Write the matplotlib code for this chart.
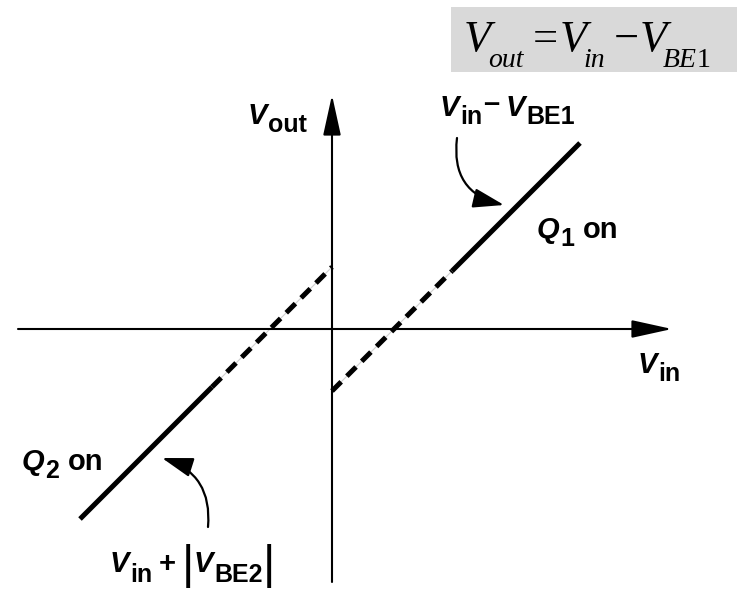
import matplotlib
matplotlib.use("Agg")
import matplotlib.pyplot as plt
from matplotlib.patches import Rectangle
from matplotlib.transforms import offset_copy

# transfer characteristic of the push-pull stage (units: arbitrary, 1 unit ~ 1 px)
VBE1 = 62
VBE2 = 62
vin_q1_off = [0, 120]      # Q1 branch, dashed part
vin_q1_on = [120, 248]     # Q1 branch, solid part
vin_q2_off = [-120, 0]     # Q2 branch, dashed part
vin_q2_on = [-252, -120]   # Q2 branch, solid part

vin_axis = [-314, 340]
vout_axis = [-253, 234]

W, H = 737, 589
fig = plt.figure(figsize=(W / 100, H / 100), dpi=100)
ax = fig.add_axes([0, 0, 1, 1])
ax.set_xlim(-332, W - 332)
ax.set_ylim(329 - H, 329)
ax.axis("off")
r = fig.canvas.get_renderer()


def q1(v):
    return [x - VBE1 for x in v]


def q2(v):
    return [x + VBE2 for x in v]


def runs(x, y, parts, family="Liberation Sans", weight="bold"):
    # parts: (text, fontsize, dy in px, style, gap before in px)
    dx = 0
    for p in parts:
        s, size, dy, style, gap = p[:5]
        w = p[5] if len(p) > 5 else weight
        dx += gap
        tr = offset_copy(ax.transData, fig, x=dx, y=dy, units="dots")
        t = ax.text(x, y, s, transform=tr, fontsize=size, fontweight=w,
                    fontstyle=style, family=family, ha="left", va="baseline",
                    zorder=3)
        dx += t.get_window_extent(r).width


# axes with arrows
ax_arrow = dict(arrowstyle="-|>,head_length=2.5,head_width=0.55",
                mutation_scale=10, lw=1.5, color="black", shrinkA=0, shrinkB=0)
ax.annotate("", xy=(vin_axis[1], 0), xytext=(vin_axis[0], 0), arrowprops=ax_arrow)
ax.annotate("", xy=(0, vout_axis[1]), xytext=(0, vout_axis[0]), arrowprops=ax_arrow)

# faint guide under dashes
for v, f in [(vin_q1_off, q1), (vin_q2_off, q2)]:
    ax.plot(v, f(v), color="#d0d0d0", lw=0.8, zorder=1)
    ax.plot(v, f(v), color="black", lw=3.6, dashes=(2.6, 1.6),
            solid_capstyle="butt", dash_capstyle="butt", zorder=2)
for v, f in [(vin_q1_on, q1), (vin_q2_on, q2)]:
    ax.plot(v, f(v), color="black", lw=3.6, solid_capstyle="butt", zorder=2)

# curved pointers
cur_arrow = dict(arrowstyle="-|>,head_length=1.9,head_width=0.6", mutation_scale=10,
                 lw=1.6, color="black", shrinkA=0, shrinkB=0)
ax.annotate("", xy=(172, 124), xytext=(125, 191),
            arrowprops=dict(cur_arrow, connectionstyle="arc3,rad=0.45"))
ax.annotate("", xy=(-170, -129), xytext=(-124, -198),
            arrowprops=dict(cur_arrow, connectionstyle="arc3,rad=0.4"))

# labels
fs, fsub, drop = 21, 18, -8
runs(-84, 205, [("V", fs, 0, "italic", 0), ("out", fsub, drop, "normal", 1)])
runs(306, -44, [("V", fs, 0, "italic", 0), ("in", fsub, drop, "normal", 1)])
runs(108, 213, [("V", fs, 0, "italic", 0), ("in", fsub, drop, "normal", 1),
                ("\u2013", fs, 4, "normal", 1),
                ("V", fs, 0, "italic", 6), ("BE1", fsub, drop, "normal", 1)])
runs(205, 91, [("Q", fs, 0, "italic", 0), ("1", fsub, drop, "normal", 1),
               ("on", fs, 0, "normal", 8)])
runs(-310, -141, [("Q", fs, 0, "italic", 0), ("2", fsub, drop, "normal", 1),
                  ("on", fs, 0, "normal", 8)])
runs(-222, -243, [("V", fs, 0, "italic", 0), ("in", fsub, -10, "normal", 1),
                  ("+", fs, 0, "normal", 6), ("|", 34, -6, "normal", 6, "normal"),
                  ("V", fs, 0, "italic", 0), ("BE2", fsub, -10, "normal", 1),
                  ("|", 34, -6, "normal", 0, "normal")])

# equation box
ax.add_patch(Rectangle((451 / W, 1 - 72 / H), (W - 451) / W, 65 / H,
                       transform=fig.transFigure, facecolor="#d9d9d9",
                       edgecolor="none", zorder=0))
es, esub, edrop = 32, 20, -16
runs(464 - 332, 329 - 51, [("V", es, 0, "italic", 0), ("out", esub, edrop, "italic", -3),
                           ("=", es, 0, "normal", 9),
                           ("V", es, 0, "italic", 2), ("in", esub, edrop, "italic", -3),
                           ("\u2212", es, 0, "normal", 8),
                           ("V", es, 0, "italic", 1), ("BE", esub, edrop, "italic", -4),
                           ("1", esub, edrop, "normal", 0)],
     family="Liberation Serif", weight="normal")

fig.savefig("out.png", dpi=100)
